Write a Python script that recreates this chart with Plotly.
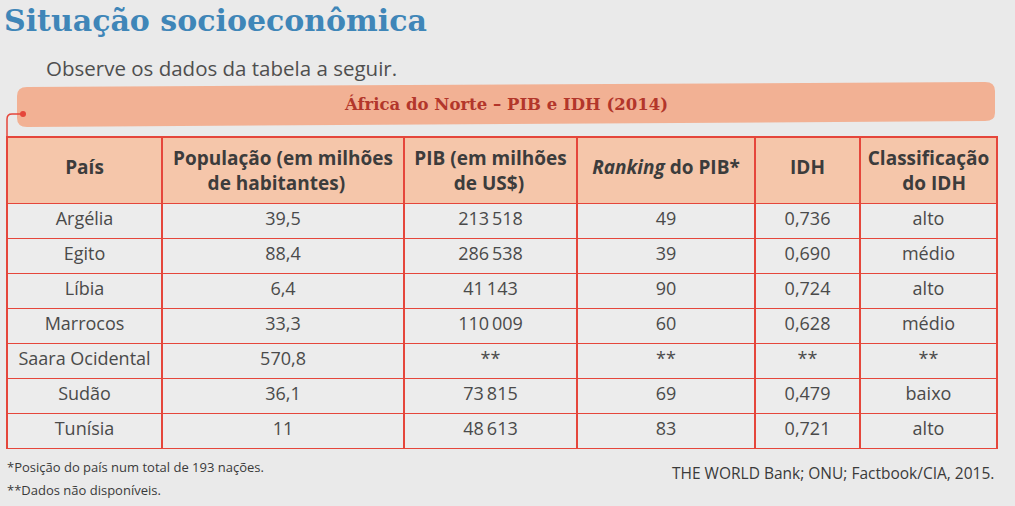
import plotly.graph_objects as go

# dados da tabela
paises = ["Argélia", "Egito", "Líbia", "Marrocos", "Saara Ocidental", "Sudão", "Tunísia"]
populacao = [39.5, 88.4, 6.4, 33.3, 570.8, 36.1, 11]
pib = [213518, 286538, 41143, 110009, None, 73815, 48613]
ranking = [49, 39, 90, 60, None, 69, 83]
idh = [0.736, 0.690, 0.724, 0.628, None, 0.479, 0.721]
classificacao = ["alto", "médio", "alto", "médio", None, "baixo", "alto"]

cabecalho = [["País"], ["População (em milhões", "de habitantes)"], ["PIB (em milhões", "de US$)"],
             ["<i>Ranking</i> do PIB*"], ["IDH"], ["Classificação", "do IDH"]]

W, H = 1015, 506
def px(x): return x / W
def py(y): return 1 - y / H

ND = "**"
def fmt_pop(v):
    if isinstance(v, int):
        return str(v)
    return f"{v:.1f}".replace(".", ",")
def fmt_pib(v):
    if v is None:
        return ND
    return f"{v:,}".replace(",", "\u2009")
def fmt_int(v):
    return ND if v is None else str(v)
def fmt_idh(v):
    return ND if v is None else f"{v:.3f}".replace(".", ",")

colunas = [
    paises,
    [fmt_pop(v) for v in populacao],
    [fmt_pib(v) for v in pib],
    [fmt_int(v) for v in ranking],
    [fmt_idh(v) for v in idh],
    [ND if v is None else v for v in classificacao],
]

# plotly alinha as linhas à esquerda dentro da célula: centraliza a 2a linha com nbsp,
# e empurra os cabeçalhos de uma linha para baixo com uma linha pequena vazia
hsize = 19
head_vals, head_sizes = [], []
for linhas in cabecalho:
    if len(linhas) == 2:
        pad = round((len(linhas[0]) - len(linhas[1])) * 10.2 / 2 / 4.95)
        head_vals.append(linhas[0] + "<br>" + "&nbsp;" * pad + linhas[1])
        head_sizes.append(hsize)
    else:
        head_vals.append("&nbsp;<br><span style='font-size:%spx'>%s</span>" % (hsize, linhas[0]))
        head_sizes.append(12.5)

red = "#e5463b"
font = "Open Sans"

table = go.Table(
    domain=dict(x=[px(7), px(997)], y=[py(458), py(137)]),
    columnwidth=[155, 242, 173, 178, 105, 137],
    header=dict(values=head_vals,
                fill_color="#f5c6aa", line=dict(color=red, width=1.5),
                font=dict(family=font, size=head_sizes, color="#3c3c3c", weight="bold"),
                align="center", height=63),
    cells=dict(values=colunas,
               fill_color="#ececec", line=dict(color=red, width=1.5),
               font=dict(family=font, size=18, color="#4a4a4a"),
               align="center", height=35),
)

fig = go.Figure(table)

shapes = [
    # faixa do título da tabela
    dict(type="path", xref="paper", yref="paper",
         path=(f"M {px(27)} {py(87)} L {px(985)} {py(82)} "
               f"Q {px(995)} {py(82)} {px(995)} {py(91)} L {px(995)} {py(113)} "
               f"Q {px(995)} {py(121)} {px(985)} {py(121)} L {px(27)} {py(127)} "
               f"Q {px(17)} {py(127)} {px(17)} {py(118)} L {px(17)} {py(96)} "
               f"Q {px(17)} {py(87)} {px(27)} {py(87)} Z"),
         fillcolor="#f2b194", line=dict(width=0), layer="below"),
    dict(type="path", xref="paper", yref="paper",
         path=f"M {px(7)} {py(138)} L {px(7)} {py(119)} Q {px(7)} {py(114)} {px(12)} {py(114)} L {px(23)} {py(114)}",
         line=dict(color=red, width=1.5)),
    dict(type="circle", xref="paper", yref="paper",
         x0=px(20), x1=px(26), y0=py(117), y1=py(111),
         fillcolor=red, line=dict(width=0)),
]

annotations = [
    dict(text="<b>Situação socioeconômica</b>", x=px(2), y=py(21), xanchor="left", yanchor="middle",
         font=dict(family="DejaVu Serif", size=30, color="#3f86b8")),
    dict(text="Observe os dados da tabela a seguir.", x=px(44), y=py(68), xanchor="left", yanchor="middle",
         font=dict(family=font, size=20.5, color="#4f4f4f")),
    dict(text="<b>África do Norte – PIB e IDH (2014)</b>", x=px(506), y=py(104), xanchor="center", yanchor="middle",
         font=dict(family="DejaVu Serif", size=16.5, color="#b3362b")),
    dict(text="*Posição do país num total de 193 nações.", x=px(5), y=py(467), xanchor="left", yanchor="middle",
         font=dict(family=font, size=13, color="#3a3a3a")),
    dict(text="**Dados não disponíveis.", x=px(5), y=py(490), xanchor="left", yanchor="middle",
         font=dict(family=font, size=13, color="#3a3a3a")),
    dict(text="THE WORLD Bank; ONU; Factbook/CIA, 2015.", x=px(996), y=py(473), xanchor="right", yanchor="middle",
         font=dict(family=font, size=15.5, color="#3a3a3a")),
]
for a in annotations:
    a.update(xref="paper", yref="paper", showarrow=False)

fig.update_layout(width=W, height=H, margin=dict(l=0, r=0, t=0, b=0),
                  paper_bgcolor="#eaeaea", plot_bgcolor="#eaeaea",
                  shapes=shapes, annotations=annotations)

fig.write_html("out.html", config={"displayModeBar": False},
               post_script="document.body.style.margin='0';document.body.style.overflow='hidden';")
